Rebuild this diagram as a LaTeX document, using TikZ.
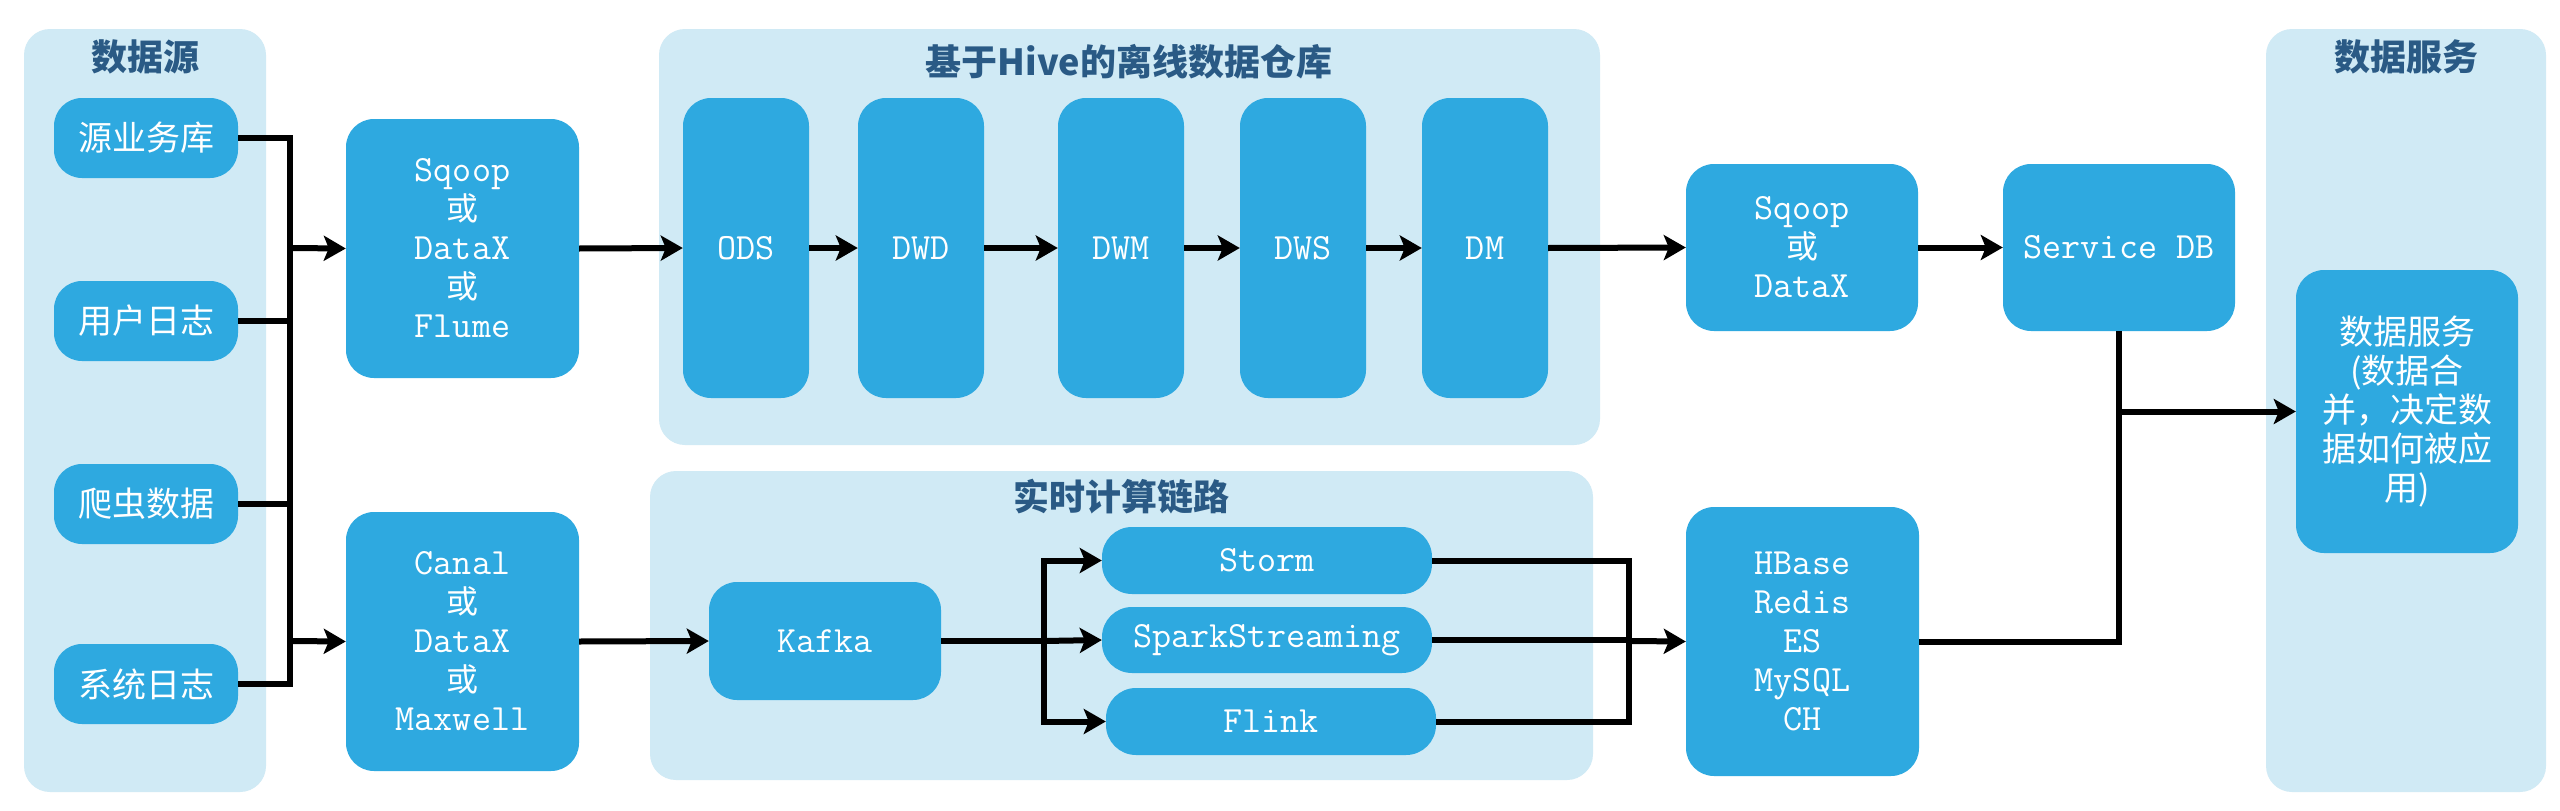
\documentclass[tikz,border=0pt]{standalone}
\usepackage{fontspec}
\newfontfamily\cjk{Noto Sans CJK SC}
\usetikzlibrary{arrows.meta,calc}
\definecolor{boxblue}{HTML}{2EA9E0}
\definecolor{panelblue}{HTML}{D0EAF5}
\definecolor{titleblue}{HTML}{2A5A85}
\tikzset{
  panel/.style={fill=panelblue, draw=none, rounded corners=26pt, inner sep=0pt},
  ptitle/.style={text=titleblue, font=\cjk\bfseries\fontsize{36}{40}\selectfont, inner sep=0pt},
  bbox/.style={fill=boxblue, draw=none, text=white, rounded corners=28pt, align=center, inner sep=0pt,
     font=\ttfamily\fontsize{37}{39}\selectfont},
  cbox/.style={bbox, font=\cjk\fontsize{34}{39}\selectfont},
  ln/.style={draw=black, line width=6pt},
  arr/.style={ln, -{Stealth[length=22pt,width=25pt,inset=5pt]}}
}
\newcommand{\huo}{{\cjk\fontsize{32}{39}\selectfont 或}}
\begin{document}
\begin{tikzpicture}[x=1pt,y=-1pt]
\useasboundingbox (0,0) rectangle (2560,811);
\fill[white] (0,0) rectangle (2560,811);
% panels
\node[panel, minimum width=242pt, minimum height=763pt] (p1) at (145,410.5) {};
\node[panel, minimum width=941pt, minimum height=416pt] (p2) at (1129.5,237) {};
\node[panel, minimum width=943pt, minimum height=309pt] (p3) at (1121.5,625.5) {};
\node[panel, minimum width=280pt, minimum height=763pt] (p4) at (2406,410.5) {};
\node[ptitle] (t1) at (145,57) {数据源};
\node[ptitle] (t2) at (1129,62) {基于Hive的离线数据仓库};
\node[ptitle] (t3) at (1121,497) {实时计算链路};
\node[ptitle] (t4) at (2406,57) {数据服务};
% sources
\node[cbox, minimum width=184pt, minimum height=80pt] (s1) at (146,138) {源业务库};
\node[cbox, minimum width=184pt, minimum height=80pt] (s2) at (146,321) {用户日志};
\node[cbox, minimum width=184pt, minimum height=80pt] (s3) at (146,504) {爬虫数据};
\node[cbox, minimum width=184pt, minimum height=80pt] (s4) at (146,684) {系统日志};
% ingestion
\node[bbox, minimum width=233pt, minimum height=259pt] (sq1) at (462.5,248.5) {Sqoop\\\huo\\DataX\\\huo\\Flume};
\node[bbox, minimum width=233pt, minimum height=259pt] (cn) at (462.5,641.5) {Canal\\\huo\\DataX\\\huo\\Maxwell};
% layers
\node[bbox, minimum width=126pt, minimum height=300pt] (ods) at (746,248) {ODS};
\node[bbox, minimum width=126pt, minimum height=300pt] (dwd) at (921,248) {DWD};
\node[bbox, minimum width=126pt, minimum height=300pt] (dwm) at (1121,248) {DWM};
\node[bbox, minimum width=126pt, minimum height=300pt] (dws) at (1303,248) {DWS};
\node[bbox, minimum width=126pt, minimum height=300pt] (dm) at (1485,248) {DM};
\node[bbox, minimum width=232pt, minimum height=167pt] (sq2) at (1802,247.5) {Sqoop\\\huo\\DataX};
\node[bbox, minimum width=232pt, minimum height=167pt] (sdb) at (2119,247.5) {Service DB};
\node[cbox, minimum width=222pt, minimum height=283pt] (inner) at (2407,411.5) {数据服务\\(数据合\\并，决定数\\据如何被应\\用)};
% realtime
\node[bbox, minimum width=232pt, minimum height=118pt] (kafka) at (825,641) {Kafka};
\node[bbox, minimum width=330pt, minimum height=67pt, rounded corners=30pt] (storm) at (1267,560.5) {Storm};
\node[bbox, minimum width=330pt, minimum height=66pt, rounded corners=30pt] (spark) at (1267,640) {SparkStreaming};
\node[bbox, minimum width=330pt, minimum height=67pt, rounded corners=30pt] (flink) at (1271,721.5) {Flink};
\node[bbox, minimum width=233pt, minimum height=269pt] (hb) at (1802.5,641.5) {HBase\\Redis\\ES\\MySQL\\CH};
% connectors
\coordinate (b1) at (290,248);
\coordinate (b2) at (290,641);
\draw[ln] (s1.east) -| (b1);
\draw[ln] (s4.east) -| (b2);
\draw[ln] (s2.east) -- (s2.east -| b1);
\draw[ln] (s3.east) -- (s3.east -| b1);
\draw[ln] (b1) -- (b2);
\draw[arr] (b1) -- (sq1.west);
\draw[arr] (b2) -- (cn.west);
\draw[arr] (sq1.east) -- (ods.west);
\draw[arr] (ods.east) -- (dwd.west);
\draw[arr] (dwd.east) -- (dwm.west);
\draw[arr] (dwm.east) -- (dws.west);
\draw[arr] (dws.east) -- (dm.west);
\draw[arr] (dm.east) -- (sq2.west);
\draw[arr] (sq2.east) -- (sdb.west);
\draw[arr] (cn.east) -- (kafka.west);
\coordinate (sp) at (1044,641);
\draw[ln] (kafka.east) -- (sp);
\draw[arr] (sp) |- (storm.west);
\draw[arr] (sp) |- (flink.west);
\draw[arr] (sp) -- (spark.west);
\coordinate (mg) at (1629,641);
\draw[ln] (storm.east) -| (mg);
\draw[ln] (flink.east) -| (mg);
\draw[ln] (spark.east) -- (spark.east -| mg);
\draw[arr] (mg) -- (hb.west);
\draw[ln] (sdb.south) |- (hb.east);
\coordinate (sv) at (2119,411.5);
\draw[arr] (sv) -- (inner.west);
\end{tikzpicture}
\end{document}
